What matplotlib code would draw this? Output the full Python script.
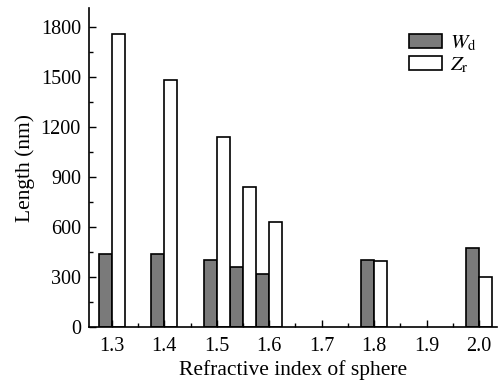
import matplotlib
matplotlib.use("Agg")
import matplotlib.pyplot as plt
import numpy as np
from matplotlib.ticker import MultipleLocator

# refractive index of sphere and the two lengths (nm)
index = [1.3, 1.4, 1.5, 1.55, 1.6, 1.8, 2.0]
w_d = [440, 440, 400, 360, 320, 400, 476]
z_r = [1760, 1480, 1140, 840, 632, 398, 298]

BAR_W = 0.025

plt.rcParams['font.family'] = ['Liberation Serif', 'DejaVu Serif']
plt.rcParams['mathtext.fontset'] = 'stix'


def main():
    fig = plt.figure(figsize=(5.03, 3.85), dpi=100)
    ax = fig.add_axes([0.1775, 0.1506, 0.8105, 0.8284])

    x = np.array(index)
    ax.bar(x - BAR_W / 2, w_d, width=BAR_W, color='#7a7a7a',
           edgecolor='black', linewidth=1.2, label=r'$W_\mathrm{d}$')
    ax.bar(x + BAR_W / 2, z_r, width=BAR_W, color='white',
           edgecolor='black', linewidth=1.2, label=r'$Z_\mathrm{r}$')

    ax.set_xlim(1.257, 2.034)
    ax.set_ylim(0, 1914)
    ax.xaxis.set_major_locator(MultipleLocator(0.1))
    ax.xaxis.set_minor_locator(MultipleLocator(0.05))
    ax.yaxis.set_major_locator(MultipleLocator(300))
    ax.yaxis.set_minor_locator(MultipleLocator(150))
    ax.set_xticks(np.arange(1.3, 2.01, 0.1))
    ax.set_xticklabels([f"{v:.1f}" for v in np.arange(1.3, 2.01, 0.1)])

    ax.tick_params(which='major', direction='in', length=5, width=1,
                   labelsize=14.5)
    ax.tick_params(axis='x', pad=7)
    ax.tick_params(axis='y', pad=6)
    ax.tick_params(which='minor', direction='in', length=3, width=1)
    ax.spines['top'].set_visible(False)
    ax.spines['right'].set_visible(False)
    for s in ('left', 'bottom'):
        ax.spines[s].set_linewidth(1.2)

    ax.set_xlabel('Refractive index of sphere', fontsize=15.5, labelpad=3)
    ax.set_ylabel('Length (nm)', fontsize=15.5, labelpad=4)

    ax.legend(loc='upper right', bbox_to_anchor=(0.985, 0.965), frameon=False,
              fontsize=15, handlelength=1.6, handleheight=0.62,
              handletextpad=0.35, labelspacing=0.1, borderaxespad=0.3)

    fig.savefig('out.png', dpi=100)


if __name__ == "__main__":
    main()
